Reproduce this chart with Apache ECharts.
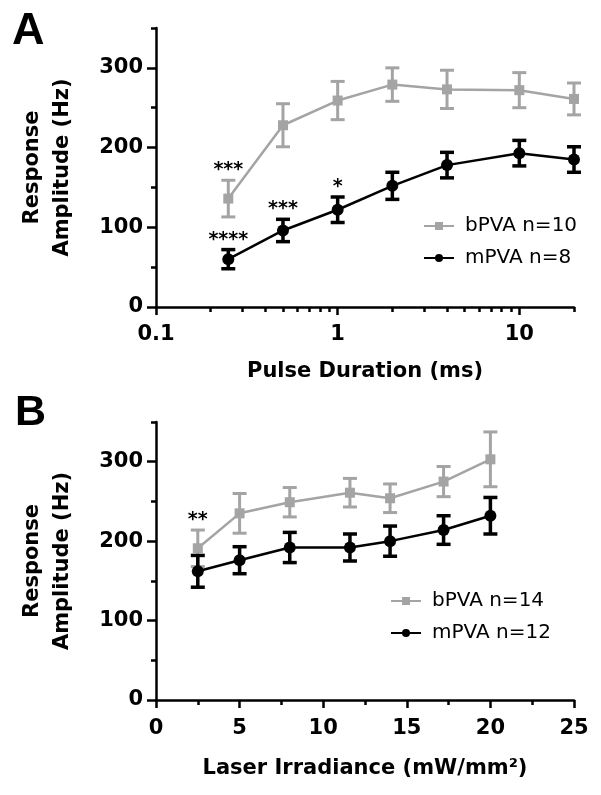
<!DOCTYPE html>
<html><head><meta charset="utf-8">
<script src="https://cdn.jsdelivr.net/npm/echarts@6/dist/echarts.min.js"></script>
<style>html,body{margin:0;padding:0;background:#fff}#c{width:601px;height:795px}</style>
</head><body><div id="c"></div>
<script>
// ---- Panel A data ----
const durationsA = [0.25, 0.5, 1, 2, 4, 10, 20];
const bMeanA = [136, 228, 259, 279, 273, 272, 261];
const bErrA  = [23, 27, 24, 21, 24, 22, 20];
const mMeanA = [60, 96, 122, 152, 178, 193, 185];
const mErrA  = [12, 14, 16, 17, 16, 16, 16];
const starIdxA = [0, 0, 1, 2];
const starSerA = ['b', 'm', 'm', 'm'];
const starTxtA = ['***', '****', '***', '*'];
const xMajorA = [0.1, 1, 10];
const xMinorA = [0.2,0.3,0.4,0.5,0.6,0.7,0.8,0.9,2,3,4,5,6,7,8,9,20];
// ---- Panel B data ----
const irradB = [2.5, 5, 8, 11.6, 14, 17.2, 20];
const bMeanB = [191, 235, 249, 261, 254, 275, 303];
const bErrB  = [23, 25, 18.5, 18, 18, 19, 34.5];
const mMeanB = [162, 176, 192, 192, 200, 214, 232];
const mErrB  = [20, 17, 19, 17, 19, 18, 23];
const starIdxB = [0];
const starSerB = ['b'];
const starTxtB = ['**'];
// ---- shared ticks ----
const yMajor = [0, 100, 200, 300];
const yMinor = [50, 150, 250, 350];
const legendA = ['bPVA n=10', 'mPVA n=8'];
const legendB = ['bPVA n=14', 'mPVA n=12'];

const GRAY = '#a4a4a4', BLACK = '#000';
const FONT = '"DejaVu Sans", sans-serif';
const boldTxt = {fontFamily: FONT, fontWeight: 'bold', fontSize: 21, color: '#000'};
const AX = {color: '#000', width: 2.5};

function pairs(xs, ys) { return xs.map((x, i) => [x, ys[i]]); }
function errData(xs, m, e) { return xs.map((x, i) => [x, m[i] - e[i], m[i] + e[i]]); }
function errRender(color, width, capW) {
  return function (params, api) {
    const x = api.value(0);
    const pLo = api.coord([x, api.value(1)]);
    const pHi = api.coord([x, api.value(2)]);
    const st = {stroke: color, lineWidth: width};
    return {type: 'group', children: [
      {type: 'line', shape: {x1: pLo[0], y1: pLo[1], x2: pHi[0], y2: pHi[1]}, style: st},
      {type: 'line', shape: {x1: pLo[0] - capW / 2, y1: pLo[1], x2: pLo[0] + capW / 2, y2: pLo[1]}, style: st},
      {type: 'line', shape: {x1: pHi[0] - capW / 2, y1: pHi[1], x2: pHi[0] + capW / 2, y2: pHi[1]}, style: st}
    ]};
  };
}
function starData(xs, idx, ser, bm, be, mm, me) {
  return idx.map((k, i) => [xs[k], ser[i] === 'b' ? bm[k] + be[k] : mm[k] + me[k]]);
}
function starRender(texts) {
  return function (params, api) {
    const p = api.coord([api.value(0), api.value(1)]);
    return {type: 'text', x: p[0], y: p[1] - 10, style: {
      text: texts[params.dataIndex], fill: '#000', font: 'bold 19px ' + FONT,
      align: 'center', verticalAlign: 'middle'}};
  };
}

function yAxes(grid) {
  return [{
    type: 'value', gridIndex: grid, position: 'left', min: 0, max: 350, interval: 50,
    name: 'Response\nAmplitude (Hz)', nameLocation: 'middle', nameGap: 78,
    nameTextStyle: Object.assign({lineHeight: 30}, boldTxt),
    axisLine: {show: true, onZero: false, lineStyle: AX},
    axisTick: {show: true, length: 9, lineStyle: AX, customValues: yMajor},
    axisLabel: Object.assign({margin: 13, customValues: yMajor}, boldTxt),
    splitLine: {show: false}
  }, {
    type: 'value', gridIndex: grid, position: 'left', min: 0, max: 350, interval: 50,
    axisLine: {show: false, onZero: false},
    axisTick: {show: true, length: 5, lineStyle: AX, customValues: yMinor},
    axisLabel: {show: false}, splitLine: {show: false}
  }];
}

const lineSeries = (name, xi, yi, data, color, symbol, size) => ({
  name, type: 'line', xAxisIndex: xi, yAxisIndex: yi, data, symbol, symbolSize: size,
  lineStyle: {color, width: 2.5}, itemStyle: {color}, z: 3
});
const errSeries = (xi, yi, data, color, w) => ({
  type: 'custom', xAxisIndex: xi, yAxisIndex: yi, data, encode: {x: 0, y: [1, 2]},
  renderItem: errRender(color, w, 14), z: 2, silent: true
});

const option = {
  backgroundColor: '#fff',
  animation: false,
  title: [
    {text: 'A', left: 7, top: 4, textStyle: {fontFamily: '"Liberation Sans", Arial, sans-serif', fontWeight: 'bold', fontSize: 45, color: '#000'}},
    {text: 'B', left: 10, top: 387, textStyle: {fontFamily: '"Liberation Sans", Arial, sans-serif', fontWeight: 'bold', fontSize: 43, color: '#000'}}
  ],
  grid: [
    {left: 156, right: 27, top: 28, height: 279},
    {left: 156, right: 27, top: 422, height: 278},
    {left: 156, right: 27, top: 28, height: 279}
  ],
  legend: [
    {data: legendA, orient: 'vertical', left: 418, top: 211, itemWidth: 30, itemHeight: 10, itemGap: 12,
     textStyle: {fontFamily: FONT, fontSize: 20, color: '#000', padding: [0, 0, 0, 6]}},
    {data: legendB, orient: 'vertical', left: 385, top: 586, itemWidth: 30, itemHeight: 10, itemGap: 12,
     textStyle: {fontFamily: FONT, fontSize: 20, color: '#000', padding: [0, 0, 0, 6]}}
  ],
  xAxis: [
    {type: 'log', gridIndex: 0, position: 'bottom', min: 0.1, max: 20, logBase: 10,
     name: 'Pulse Duration (ms)', nameLocation: 'middle', nameGap: 54, nameTextStyle: boldTxt,
     axisLine: {show: true, onZero: false, lineStyle: AX},
     axisTick: {show: true, length: 8, lineStyle: AX},
     axisLabel: Object.assign({margin: 17, showMaxLabel: false, formatter: v => String(v)}, boldTxt),
     splitLine: {show: false}, minorTick: {show: false}},
    {type: 'value', gridIndex: 1, position: 'bottom', min: 0, max: 25, interval: 5,
     name: 'Laser Irradiance (mW/mm²)', nameLocation: 'middle', nameGap: 58, nameTextStyle: boldTxt,
     axisLine: {show: true, onZero: false, lineStyle: AX},
     axisTick: {show: true, length: 8, lineStyle: AX},
     minorTick: {show: true, splitNumber: 2, length: 5, lineStyle: AX},
     axisLabel: Object.assign({margin: 18}, boldTxt),
     splitLine: {show: false}, minorSplitLine: {show: false}},
    {type: 'value', gridIndex: 2, position: 'bottom', min: -1, max: Math.log10(20),
     axisLine: {show: false, onZero: false},
     axisTick: {show: true, length: 5, lineStyle: AX, customValues: xMinorA.map(v => Math.log10(v))},
     axisLabel: {show: false}, splitLine: {show: false}}
  ],
  yAxis: yAxes(0).concat(yAxes(1)).concat([
    {type: 'value', gridIndex: 2, min: 0, max: 350, show: false, axisLine: {onZero: false}}
  ]),
  series: [
    errSeries(0, 0, errData(durationsA, bMeanA, bErrA), GRAY, 3),
    lineSeries(legendA[0], 0, 0, pairs(durationsA, bMeanA), GRAY, 'rect', 10),
    errSeries(0, 0, errData(durationsA, mMeanA, mErrA), BLACK, 3.5),
    lineSeries(legendA[1], 0, 0, pairs(durationsA, mMeanA), BLACK, 'circle', 12),
    {type: 'custom', xAxisIndex: 0, yAxisIndex: 0, z: 5, silent: true,
     data: starData(durationsA, starIdxA, starSerA, bMeanA, bErrA, mMeanA, mErrA),
     encode: {x: 0, y: 1}, renderItem: starRender(starTxtA)},

    errSeries(1, 2, errData(irradB, bMeanB, bErrB), GRAY, 3),
    lineSeries(legendB[0], 1, 2, pairs(irradB, bMeanB), GRAY, 'rect', 10),
    errSeries(1, 2, errData(irradB, mMeanB, mErrB), BLACK, 3.5),
    lineSeries(legendB[1], 1, 2, pairs(irradB, mMeanB), BLACK, 'circle', 12),
    {type: 'custom', xAxisIndex: 1, yAxisIndex: 2, z: 5, silent: true,
     data: starData(irradB, starIdxB, starSerB, bMeanB, bErrB, mMeanB, mErrB),
     encode: {x: 0, y: 1}, renderItem: starRender(starTxtB)}
  ]
};
const chart = echarts.init(document.getElementById('c'), null, {renderer: 'canvas'});
chart.setOption(option);
</script>
</body></html>
